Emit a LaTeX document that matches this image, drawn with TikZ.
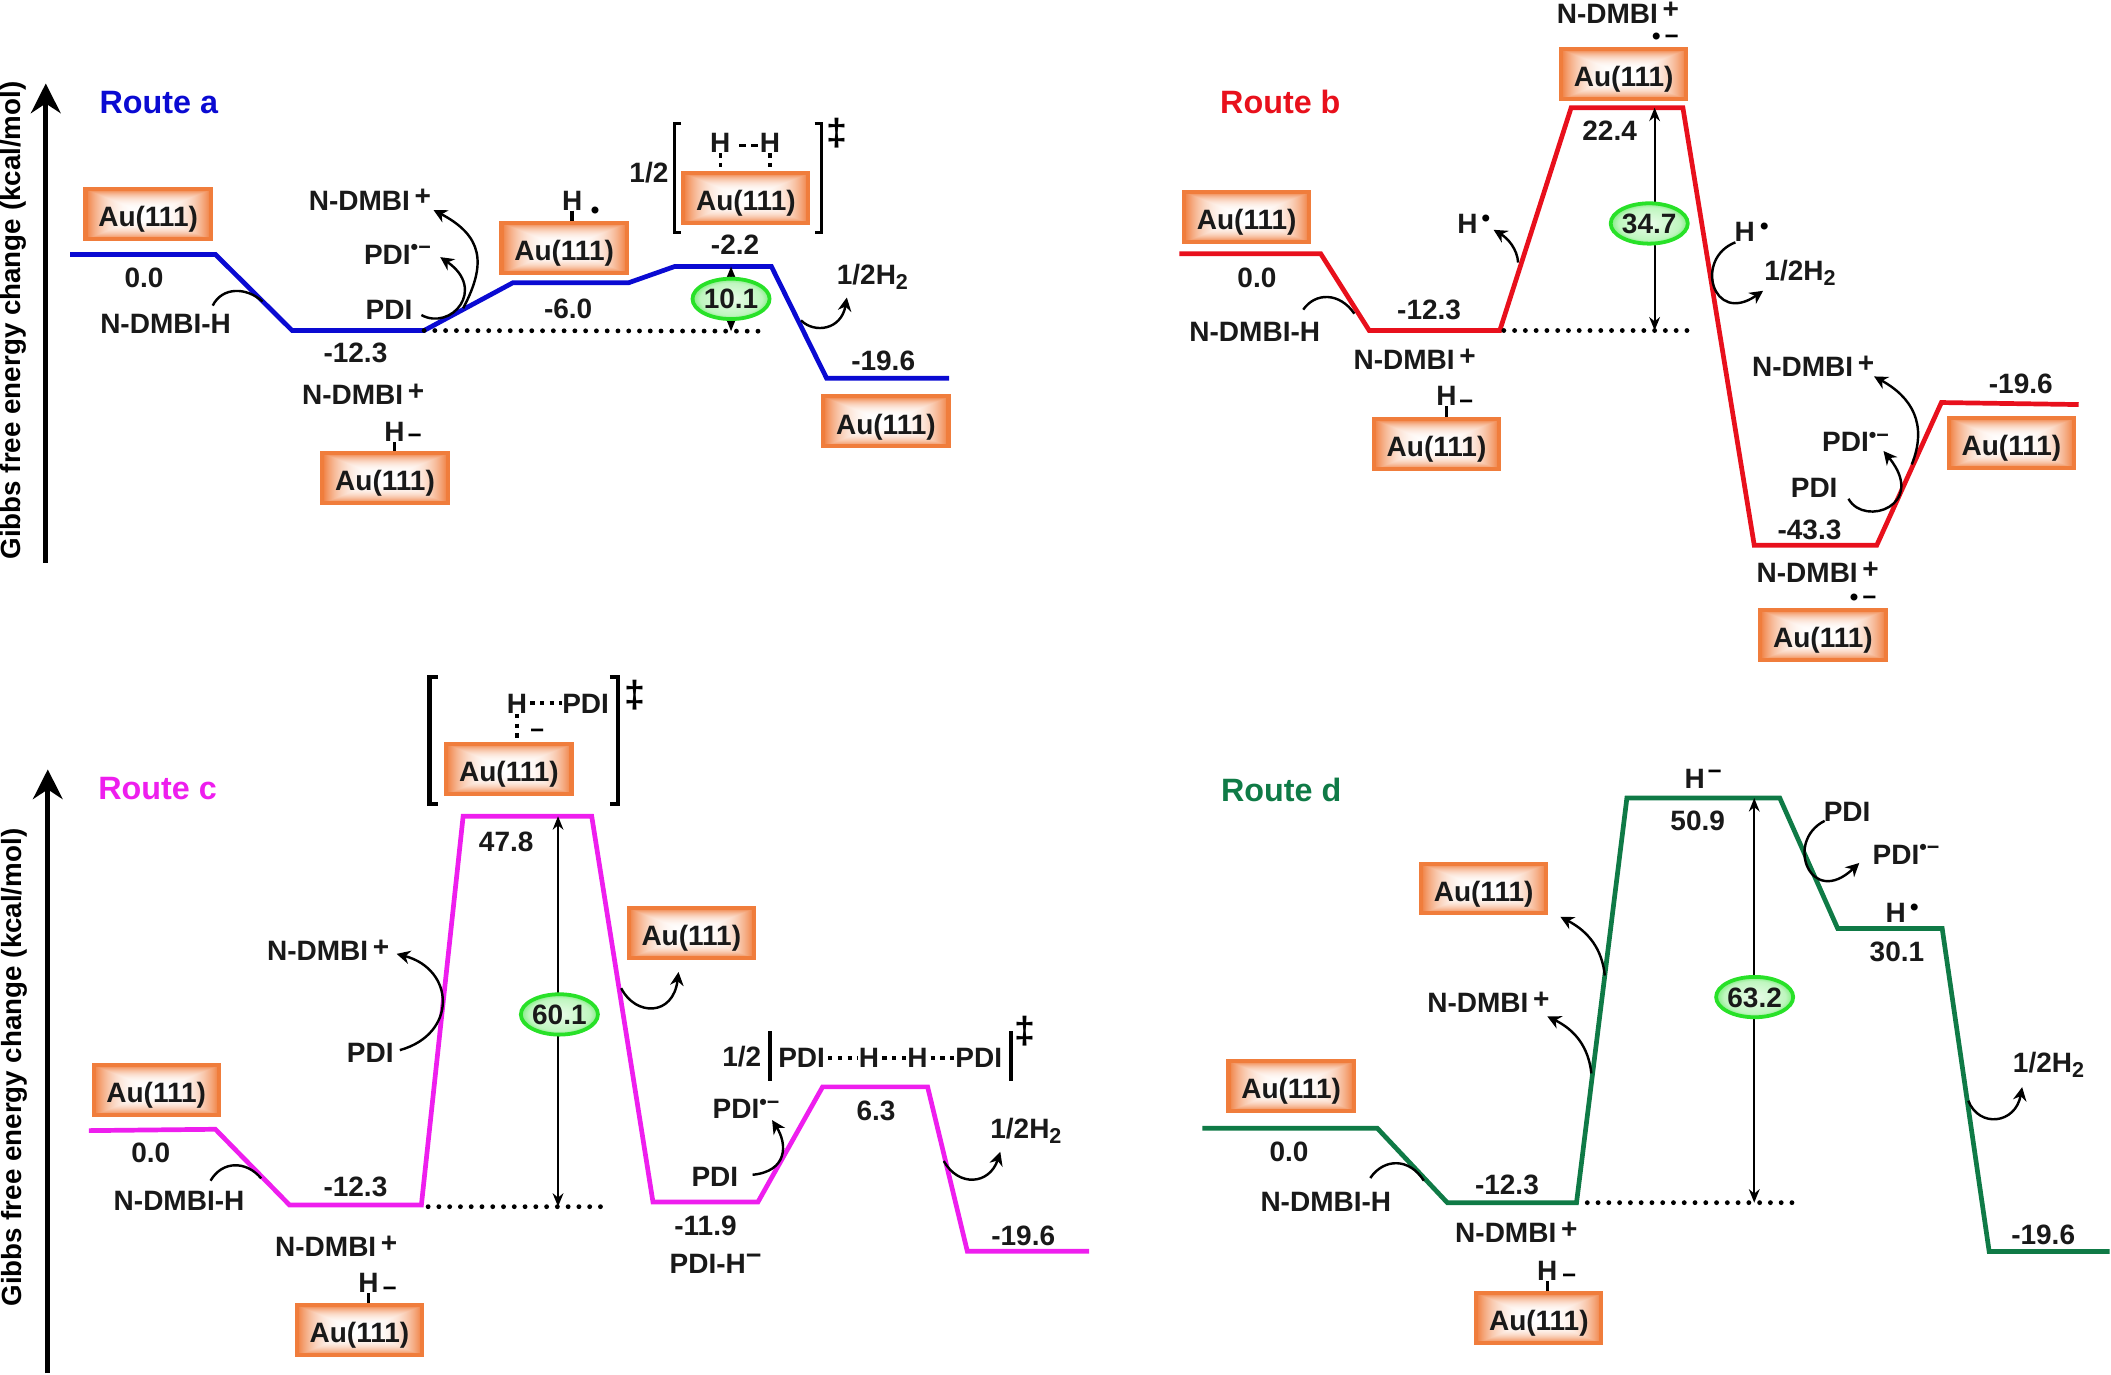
\documentclass[tikz,border=0pt]{standalone}
\usepackage{fontspec}
\setmainfont{Liberation Sans}
\usetikzlibrary{arrows.meta}
\usetikzlibrary{shapes.geometric}
\definecolor{auedge}{RGB}{240,125,60}
\definecolor{barrier}{RGB}{40,225,40}
\definecolor{routea}{RGB}{10,10,210}
\definecolor{routeb}{RGB}{232,16,28}
\definecolor{routec}{RGB}{238,30,238}
\definecolor{routed}{RGB}{15,122,70}
\pgfdeclarefunctionalshading{aupath}{\pgfpoint{0bp}{0bp}}{\pgfpoint{100bp}{100bp}}{}{
50 sub abs exch 50 sub abs 2 copy lt {exch} if pop 25 div dup 1 gt {pop 1} if dup dup mul mul
dup 0.06 mul 1 exch sub exch dup 0.51 mul 1 exch sub exch 0.76 mul 1 exch sub }
\pgfdeclareradialshading{gapglow}{\pgfpoint{0bp}{0bp}}{color(0bp)=(white!90!barrier); color(20bp)=(white!70!barrier); color(32bp)=(barrier); color(50bp)=(barrier)}
\newcommand{\rup}[1]{\raisebox{3.5pt}[0pt][0pt]{\fontsize{8}{8}\selectfont #1}}
\newcommand{\pls}{\,\raisebox{1.5pt}[0pt][0pt]{+}}
\newcommand{\hsub}{\raisebox{-2pt}[0pt][0pt]{\fontsize{8}{8}\selectfont 2}}
\tikzset{
lab/.style={font=\fontsize{10.4}{12}\selectfont\bfseries, inner sep=0pt, text height=7.4pt, text depth=0pt, text=black!90},
labw/.style={lab, anchor=west},
chg/.style={font=\fontsize{9}{10}\selectfont\bfseries, inner sep=0pt, text height=6pt, text depth=0pt},
ddag/.style={font=\fontsize{14}{14}\selectfont\bfseries, inner sep=0pt},
routelab/.style={font=\fontsize{12}{14}\selectfont\bfseries, inner sep=0pt},
aubox/.style={lab, text height=9.4pt, shade, shading=aupath, draw=auedge, line width=1.5pt, minimum width=46.5pt, minimum height=18.5pt},
gap/.style={lab, ellipse, shade, shading=gapglow, draw=barrier, line width=1.4pt, minimum width=27pt, minimum height=15pt},
axislab/.style={font=\fontsize{10.3}{12}\selectfont\bfseries, inner sep=0pt, rotate=90},
level/.style={line width=1.75pt, line join=miter},
axis/.style={line width=1.9pt, -{Stealth[length=11pt,width=11pt]}},
rxn/.style={line width=0.9pt, -{Stealth[length=5pt,width=5pt]}},
arc/.style={line width=0.9pt},
span/.style={line width=0.7pt, {Stealth[length=5pt,width=4pt]}-{Stealth[length=5pt,width=4pt]}},
ref/.style={line width=1.8pt, line cap=round, dash pattern=on 0pt off 4pt},
bond/.style={line width=1.3pt},
tsbond/.style={line width=1.2pt, dash pattern=on 1.6pt off 2pt},
bracket/.style={line width=1.1pt}
}
\begin{document}
\begin{tikzpicture}[x=0.5pt,y=-0.5pt]
\useasboundingbox (0,0) rectangle (1568,1020.6);
\coordinate (aTop) at (34,62);
\coordinate (aBot) at (34,418);
\draw[axis] (aBot) -- (aTop);
\node [axislab] (aAxis) at (10,238) {Gibbs free energy change (kcal/mol)};
\coordinate (a0) at (52,189);
\coordinate (a1) at (160,189);
\coordinate (a2) at (217,245.5);
\coordinate (a3) at (315,245.5);
\coordinate (a4) at (381,210);
\coordinate (a5) at (467,210);
\coordinate (a6) at (501,198);
\coordinate (a7) at (573,198);
\coordinate (a8) at (614,281);
\coordinate (a9) at (705,281);
\draw[level, routea] (a0) -- (a1) -- (a2) -- (a3) -- (a4) -- (a5) -- (a6) -- (a7) -- (a8) -- (a9);
\coordinate (aRef) at (565,246);
\draw[ref] (a3) -- (aRef);
\node [routelab, routea] (aName) at (118,76) {Route a};
\node [aubox] (aBox0) at (110,159) {Au(111)};
\node [aubox] (aBox1) at (286,355) {Au(111)};
\node [aubox] (aBox2) at (419,184) {Au(111)};
\node [aubox] (aBox3) at (554,147) {Au(111)};
\node [aubox] (aBox4) at (658,313) {Au(111)};
\node [lab] (aE0) at (107,206) {0.0};
\node [lab] (aE1) at (264,262) {-12.3};
\node [lab] (aE2) at (422,229) {-6.0};
\node [lab] (aE3) at (546,182) {-2.2};
\node [lab] (aE4) at (656,268) {-19.6};
\node [lab] (aDonor) at (123,240) {N-DMBI-H};
\node [labw] (aCat1) at (229,148.6) {N-DMBI\pls};
\node [labw] (aCat2) at (224,293) {N-DMBI\pls};
\node [labw] (aRad) at (270,189) {PDI\rup{•−}};
\node [lab] (aPdi) at (289,230) {PDI};
\node [lab] (aH1) at (293,320.6) {H};
\node [chg] (aH1c) at (308,323.5) {−};
\draw[bond] (aH1.south) -- (aH1.south |- aBox1.north);
\node [lab] (aH2) at (425,148.6) {H};
\node [chg] (aH2c) at (442,156) {•};
\draw[bond] (aH2.south) -- (aH2.south |- aBox2.north);
\node [lab] (aH3) at (535,106) {H};
\node [lab] (aH4) at (572,106) {H};
\draw[tsbond, dash pattern=on 2.5pt off 2pt] ([yshift=-1pt]aH3.east) ++(6,0) -- ([yshift=-1pt]aH4.west);
\draw[tsbond] (aH3.south) -- (aH3.south |- aBox3.north);
\draw[tsbond] (aH4.south) -- (aH4.south |- aBox3.north);
\node [lab] (aHalf) at (482,128) {1/2};
\coordinate (aBr1) at (506,92);
\coordinate (aBr2) at (501,92);
\coordinate (aBr3) at (501,173);
\coordinate (aBr4) at (506,173);
\draw[bracket] (aBr1) -- (aBr2) -- (aBr3) -- (aBr4);
\coordinate (aBr5) at (605,92);
\coordinate (aBr6) at (610,92);
\coordinate (aBr7) at (610,173);
\coordinate (aBr8) at (605,173);
\draw[bracket] (aBr5) -- (aBr6) -- (aBr7) -- (aBr8);
\node [ddag] (aDag) at (622,99) {‡};
\coordinate (aGapT) at (543,198);
\coordinate (aGapB) at (543,246);
\draw[span] (aGapT) -- (aGapB);
\node [gap] (aGap) at (543,222) {10.1};
\node [lab] (aH2gas) at (648,204) {1/2H\hsub};
\coordinate (aArc1) at (158,227);
\coordinate (aArc2) at (195,224);
\draw[arc] (aArc1) .. controls (165,213) and (183,213) .. (aArc2);
\coordinate (aRx1) at (313,234);
\coordinate (aRx2) at (327,191);
\draw[rxn] (aRx1) .. controls (335,246) and (362,215) .. (aRx2);
\coordinate (aRx3) at (344,229);
\coordinate (aRx4) at (322,156);
\draw[rxn] (aRx3) .. controls (362,195) and (358,175) .. (aRx4);
\coordinate (aRx5) at (595,238);
\coordinate (aRx6) at (629,221);
\draw[rxn] (aRx5) .. controls (605,248) and (625,245) .. (aRx6);
\coordinate (b0) at (876,188.5);
\coordinate (b1) at (981,188.5);
\coordinate (b2) at (1017,245.5);
\coordinate (b3) at (1114,245.5);
\coordinate (b4) at (1167,80);
\coordinate (b5) at (1250,80);
\coordinate (b6) at (1303,405);
\coordinate (b7) at (1394,405);
\coordinate (b8) at (1442,299);
\coordinate (b9) at (1544,300.5);
\draw[level, routeb] (b0) -- (b1) -- (b2) -- (b3) -- (b4) -- (b5) -- (b6) -- (b7) -- (b8) -- (b9);
\coordinate (bRef1) at (1117,245.5);
\coordinate (bRef2) at (1260,245.5);
\draw[ref] (bRef1) -- (bRef2);
\node [routelab, routeb] (bName) at (951,76) {Route b};
\node [aubox] (bBox0) at (926,161) {Au(111)};
\node [aubox] (bBox1) at (1067,330) {Au(111)};
\node [aubox] (bBox2) at (1206,55) {Au(111)};
\node [aubox] (bBox3) at (1354,471.5) {Au(111)};
\node [aubox] (bBox4) at (1494,329) {Au(111)};
\node [lab] (bE0) at (933.6,206) {0.0};
\node [lab] (bE1) at (1061.5,230) {-12.3};
\node [lab] (bE2) at (1195.6,96.6) {22.4};
\node [lab] (bE3) at (1344,393) {-43.3};
\node [lab] (bE4) at (1501,285) {-19.6};
\node [lab] (bDonor) at (932,246.5) {N-DMBI-H};
\node [labw] (bCat1) at (1005,267.4) {N-DMBI\pls};
\node [labw] (bCat2) at (1156,9.7) {N-DMBI\pls};
\node [labw] (bCat3) at (1301,272) {N-DMBI\pls};
\node [labw] (bCat4) at (1304.4,425) {N-DMBI\pls};
\node [chg] (bDot1) at (1237,27) {•\,−};
\node [chg] (bDot2) at (1384,443.5) {•\,−};
\node [lab] (bH1) at (1074.4,294) {H};
\node [chg] (bH1c) at (1089,298) {−};
\draw[bond] (bH1.south) -- (bH1.south |- bBox1.north);
\node [lab] (bH2) at (1090,166) {H};
\node [chg] (bH2c) at (1103.6,162) {•};
\node [lab] (bH3) at (1296,172) {H};
\node [chg] (bH3c) at (1310.6,168) {•};
\node [lab] (bH2gas) at (1337,201) {1/2H\hsub};
\node [labw] (bRad) at (1353,328) {PDI\rup{•−}};
\node [lab] (bPdi) at (1347.5,362.4) {PDI};
\coordinate (bGapT) at (1229,80);
\coordinate (bGapB) at (1229,245.5);
\draw[span] (bGapT) -- (bGapB);
\node [gap] (bGap) at (1225,166) {34.7};
\coordinate (bArc1) at (968,230);
\coordinate (bArc2) at (1006,233);
\draw[arc] (bArc1) .. controls (977,217) and (995,217) .. (bArc2);
\coordinate (bRx1) at (1127.6,195);
\coordinate (bRx2) at (1109.4,170.7);
\draw[rxn] (bRx1) .. controls (1127,185) and (1120,177) .. (bRx2);
\coordinate (bRx3) at (1289,180);
\coordinate (bRx4) at (1309.6,216);
\draw[rxn] (bRx3) .. controls (1258,192) and (1272,242) .. (bRx4);
\coordinate (bRx5) at (1373,370.5);
\coordinate (bRx6) at (1399,335);
\draw[rxn] (bRx5) .. controls (1385,392) and (1432,375) .. (bRx6);
\coordinate (bRx7) at (1420,345);
\coordinate (bRx8) at (1392,279.6);
\draw[rxn] (bRx7) .. controls (1432,315) and (1420,295) .. (bRx8);
\coordinate (cTop) at (35.5,571.5);
\coordinate (cBot) at (35.5,1020);
\draw[axis] (cBot) -- (cTop);
\node [axislab] (cAxis) at (11,793) {Gibbs free energy change (kcal/mol)};
\coordinate (c0) at (66,839.8);
\coordinate (c1) at (160,838.8);
\coordinate (c2) at (215,895);
\coordinate (c3) at (313,895);
\coordinate (c4) at (344,606.3);
\coordinate (c5) at (439.5,606.3);
\coordinate (c6) at (485,892.8);
\coordinate (c7) at (563,892.8);
\coordinate (c8) at (611,807.3);
\coordinate (c9) at (689,807.3);
\coordinate (c10) at (718.5,929.4);
\coordinate (c11) at (809,929.4);
\draw[level, routec] (c0) -- (c1) -- (c2) -- (c3) -- (c4) -- (c5) -- (c6) -- (c7) -- (c8) -- (c9) -- (c10) -- (c11);
\coordinate (cRef1) at (318,896.3);
\coordinate (cRef2) at (449.4,896.3);
\draw[ref] (cRef1) -- (cRef2);
\node [routelab, routec] (cName) at (117,586) {Route c};
\node [aubox] (cBox0) at (116,809.6) {Au(111)};
\node [aubox] (cBox1) at (267,988) {Au(111)};
\node [aubox] (cBox2) at (378,571) {Au(111)};
\node [aubox] (cBox3) at (513.5,693) {Au(111)};
\node [lab] (cE0) at (112,856.3) {0.0};
\node [lab] (cE1) at (264,881) {-12.3};
\node [lab] (cE2) at (376,625) {47.8};
\node [lab] (cE3) at (524,910) {-11.9};
\node [lab] (cE4) at (650.7,825) {6.3};
\node [lab] (cE5) at (760,918) {-19.6};
\node [lab] (cDonor) at (133,892) {N-DMBI-H};
\node [labw] (cCat1) at (204,925.7) {N-DMBI\pls};
\node [labw] (cCat2) at (198,705.8) {N-DMBI\pls};
\node [lab] (cPdi1) at (275,782) {PDI};
\node [lab] (cPdi2) at (531,874) {PDI};
\node [labw] (cRad) at (529,823.5) {PDI\rup{•−}};
\node [labw] (cPdiH) at (497,938.5) {PDI-H\rup{\fontsize{10}{10}\selectfont −}};
\node [lab] (cH1) at (273.7,952.7) {H};
\node [chg] (cH1c) at (289.4,957) {−};
\draw[bond] (cH1.south) -- (cH1.south |- cBox1.north);
\node [lab] (cH2) at (384,522.4) {H};
\node [lab] (cP1) at (435,522.4) {PDI};
\draw[tsbond, line width=1.5pt] ([xshift=1pt]cH2.east) -- (cP1.west);
\draw[tsbond, line width=1.5pt] (cH2.south) -- (cH2.south |- cBox2.north);
\node [chg] (cH2c) at (399,542.7) {−};
\coordinate (cBr1) at (325,503);
\coordinate (cBr2) at (319,503);
\coordinate (cBr3) at (319,597);
\coordinate (cBr4) at (325,597);
\draw[bracket, line width=1.6pt] (cBr1) -- (cBr2) -- (cBr3) -- (cBr4);
\coordinate (cBr5) at (453,503);
\coordinate (cBr6) at (459,503);
\coordinate (cBr7) at (459,597);
\coordinate (cBr8) at (453,597);
\draw[bracket, line width=1.6pt] (cBr5) -- (cBr6) -- (cBr7) -- (cBr8);
\node [ddag] (cDag1) at (472,516) {‡};
\node [lab] (cHalf) at (551,784.6) {1/2};
\coordinate (cBar1) at (572,766);
\coordinate (cBar2) at (572,803);
\draw[bracket, line width=1.5pt] (cBar1) -- (cBar2);
\coordinate (cBar3) at (751,766);
\coordinate (cBar4) at (751,803);
\draw[bracket, line width=1.5pt] (cBar3) -- (cBar4);
\node [ddag] (cDag2) at (761,766) {‡};
\node [lab] (cP2) at (595.4,785.6) {PDI};
\node [lab] (cH3) at (645.5,785.6) {H};
\node [lab] (cH4) at (681.4,785.6) {H};
\node [lab] (cP3) at (727,785.6) {PDI};
\draw[tsbond, line width=1.5pt] ([xshift=1pt]cP2.east) -- (cH3.west);
\draw[tsbond, line width=1.5pt] ([xshift=1pt]cH3.east) -- (cH4.west);
\draw[tsbond, line width=1.5pt] ([xshift=1pt]cH4.east) -- (cP3.west);
\coordinate (cGapT) at (414.5,606.3);
\coordinate (cGapB) at (414.5,896.3);
\draw[span] (cGapT) -- (cGapB);
\node [gap] (cGap) at (415.5,753.5) {60.1};
\node [lab] (cH2gas) at (762,838) {1/2H\hsub};
\coordinate (cArc1) at (156.4,877);
\coordinate (cArc2) at (194,875.3);
\draw[arc] (cArc1) .. controls (165,862) and (183,862) .. (cArc2);
\coordinate (cRx1) at (297,780);
\coordinate (cRx2) at (294.6,708.5);
\draw[rxn] (cRx1) .. controls (340,768) and (338,720) .. (cRx2);
\coordinate (cRx3) at (461.4,734);
\coordinate (cRx4) at (504,722);
\draw[rxn] (cRx3) .. controls (472,755) and (500,755) .. (cRx4);
\coordinate (cRx5) at (559,872.6);
\coordinate (cRx6) at (573.5,832);
\draw[rxn] (cRx5) .. controls (585,870) and (585,850) .. (cRx6);
\coordinate (cRx7) at (701,862.4);
\coordinate (cRx8) at (743,855.6);
\draw[rxn] (cRx7) .. controls (712,882) and (735,880) .. (cRx8);
\coordinate (d0) at (893,838);
\coordinate (d1) at (1023,838);
\coordinate (d2) at (1075,893.3);
\coordinate (d3) at (1171,893.3);
\coordinate (d4) at (1208.4,592.8);
\coordinate (d5) at (1322,592.8);
\coordinate (d6) at (1365,689.7);
\coordinate (d7) at (1442.6,689.7);
\coordinate (d8) at (1477.5,929.6);
\coordinate (d9) at (1567,929.6);
\draw[level, routed] (d0) -- (d1) -- (d2) -- (d3) -- (d4) -- (d5) -- (d6) -- (d7) -- (d8) -- (d9);
\coordinate (dRef1) at (1179,893.3);
\coordinate (dRef2) at (1337.7,893.3);
\draw[ref] (dRef1) -- (dRef2);
\node [routelab, routed] (dName) at (951.7,586.4) {Route d};
\node [aubox] (dBox0) at (959,806.5) {Au(111)};
\node [aubox] (dBox1) at (1143,979) {Au(111)};
\node [aubox] (dBox2) at (1102,660) {Au(111)};
\node [lab] (dE0) at (957.4,855.5) {0.0};
\node [lab] (dE1) at (1119.3,879.6) {-12.3};
\node [lab] (dE2) at (1261,609.7) {50.9};
\node [lab] (dE3) at (1409,707) {30.1};
\node [lab] (dE4) at (1517.6,917) {-19.6};
\node [lab] (dDonor) at (984.8,892.4) {N-DMBI-H};
\node [labw] (dCat1) at (1080.5,915.7) {N-DMBI\pls};
\node [labw] (dCat2) at (1059.8,745) {N-DMBI\pls};
\node [lab] (dH1) at (1149.3,944) {H};
\node [chg] (dH1c) at (1165.6,947.7) {−};
\draw[bond] (dH1.south) -- (dH1.south |- dBox1.north);
\node [lab] (dH2) at (1258.7,578.3) {H};
\node [chg] (dH2c) at (1273.7,572.7) {−};
\node [lab] (dH3) at (1408,677.5) {H};
\node [chg] (dH3c) at (1422,673.7) {•};
\node [lab] (dPdi) at (1372,603) {PDI};
\node [labw] (dRad) at (1390.6,634.4) {PDI\rup{•−}};
\node [lab] (dH2gas) at (1521.6,789) {1/2H\hsub};
\coordinate (dGapT) at (1303,592.8);
\coordinate (dGapB) at (1303,893.3);
\draw[span] (dGapT) -- (dGapB);
\node [gap] (dGap) at (1303.3,740.6) {63.2};
\coordinate (dArc1) at (1017.8,875);
\coordinate (dArc2) at (1057.6,877);
\draw[arc] (dArc1) .. controls (1028,860) and (1047,860) .. (dArc2);
\coordinate (dRx1) at (1182,797.3);
\coordinate (dRx2) at (1149.3,755);
\draw[rxn] (dRx1) .. controls (1180,778) and (1170,765) .. (dRx2);
\coordinate (dRx3) at (1192,724.6);
\coordinate (dRx4) at (1159,681);
\draw[rxn] (dRx3) .. controls (1190,705) and (1180,692) .. (dRx4);
\coordinate (dRx5) at (1355.3,609.7);
\coordinate (dRx6) at (1381,641);
\draw[rxn] (dRx5) .. controls (1325,625) and (1345,675) .. (dRx6);
\coordinate (dRx7) at (1462,817.6);
\coordinate (dRx8) at (1502,807.5);
\draw[rxn] (dRx7) .. controls (1470,838) and (1497,835) .. (dRx8);
\end{tikzpicture}
\end{document}
